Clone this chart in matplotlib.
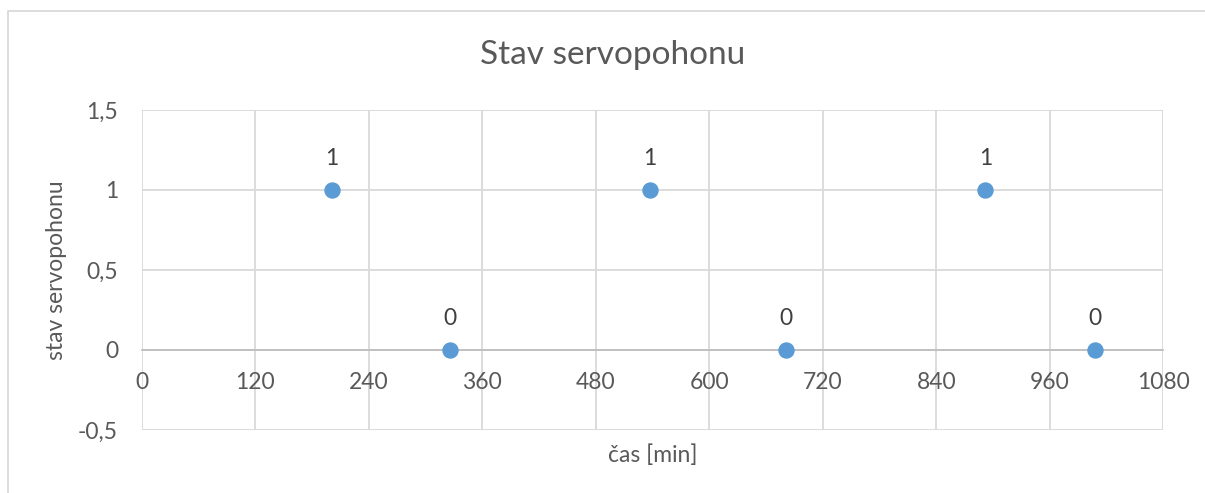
import matplotlib.pyplot as plt
from matplotlib.lines import Line2D

# data
cas = [201, 326, 537, 681, 892, 1008]
stav = [1, 0, 1, 0, 1, 0]
x_ticks = [0, 120, 240, 360, 480, 600, 720, 840, 960, 1080]
y_ticks = [-0.5, 0, 0.5, 1, 1.5]
y_tick_labels = ['-0,5', '0', '0,5', '1', '1,5']

plt.rcParams['font.family'] = ['Lato', 'DejaVu Sans']
text_col = '#595959'
grid_col = '#D9D9D9'
dot_col = '#5B9BD5'
fs = 16.5

fig = plt.figure(figsize=(12.05, 4.93), dpi=100)
ax = fig.add_axes([141.7 / 1205, 63 / 493, 1021.6 / 1205, 320 / 493])

ax.plot(cas, stav, 'o', color=dot_col, markersize=10.8, zorder=3, clip_on=False)
for x, y in zip(cas, stav):
    ax.annotate(str(y), (x, y), xytext=(0, 22.5), textcoords='offset points',
                ha='center', va='center', fontsize=fs, color='#404040')

ax.set_xlim(0, 1080)
ax.set_ylim(-0.5, 1.5)
ax.set_xticks(x_ticks)
ax.set_xticklabels([str(t) for t in x_ticks])
ax.set_yticks(y_ticks)
ax.set_yticklabels(y_tick_labels)
ax.grid(True, color=grid_col, linewidth=1.3)
ax.set_axisbelow(True)

for s in ['top', 'right', 'left']:
    ax.spines[s].set_visible(False)
ax.spines['bottom'].set_position(('data', 0))
ax.spines['bottom'].set_color('#BFBFBF')
ax.spines['bottom'].set_linewidth(1.3)
ax.spines['bottom'].set_zorder(2)

ax.tick_params(axis='x', length=0, pad=16, labelsize=fs, labelcolor=text_col)
ax.tick_params(axis='y', length=0, pad=17, labelsize=fs, labelcolor=text_col)

ax.set_xlabel('čas [min]', fontsize=fs, color=text_col, va='center')
ax.xaxis.set_label_coords(0.5, -0.078)
ax.set_ylabel('stav servopohonu', fontsize=fs, color=text_col, va='center')
ax.yaxis.set_label_coords(-0.083, 0.5)

fig.text(613 / 1205, 1 - 55 / 493, 'Stav servopohonu', ha='center', va='center',
         fontsize=24, color=text_col)

# chart area frame (top and left edge visible)
fig.add_artist(Line2D([8 / 1205, 8 / 1205, 1], [0, 1 - 11 / 493, 1 - 11 / 493],
                      color=grid_col, linewidth=1.3, transform=fig.transFigure))

fig.savefig('out.png', dpi=100)
